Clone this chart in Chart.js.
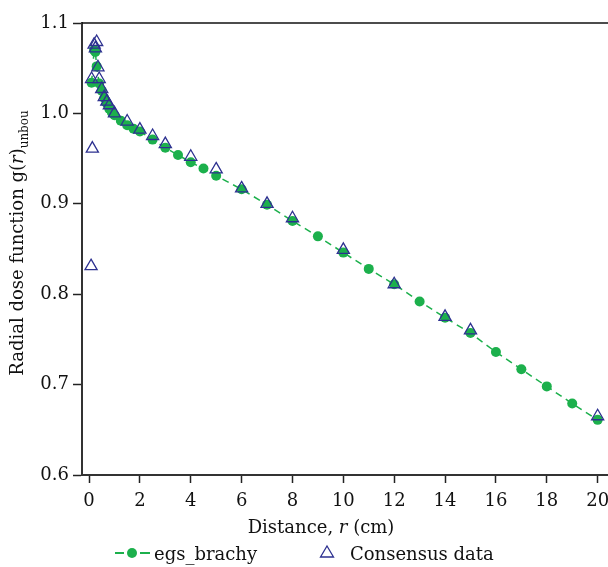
<!DOCTYPE html>
<html>
<head>
<meta charset="utf-8">
<script src="https://cdn.jsdelivr.net/npm/chart.js@4.4.1/dist/chart.umd.min.js"></script>
<style>
  html, body { margin: 0; padding: 0; background: #fff; overflow: hidden; }
  #wrap { width: 608px; height: 567px; position: relative; overflow: hidden; }
</style>
</head>
<body>
<div id="wrap"><canvas id="grafico" width="624" height="567"></canvas></div>
<script>
// egs_brachy (green dots, dashed line)
const rEgs = [0.1, 0.2, 0.25, 0.3, 0.4, 0.5, 0.6, 0.7, 0.8, 0.9, 1, 1.25, 1.5, 1.75, 2, 2.5, 3, 3.5, 4, 4.5, 5,
              6, 7, 8, 9, 10, 11, 12, 13, 14, 15, 16, 17, 18, 19, 20];
const gEgs = [1.034, 1.070, 1.068, 1.052, 1.033, 1.025, 1.017, 1.011, 1.005, 1.001, 0.998, 0.992, 0.987, 0.983, 0.980, 0.971, 0.962, 0.954, 0.946, 0.939, 0.931,
              0.916, 0.899, 0.881, 0.864, 0.846, 0.828, 0.811, 0.792, 0.774, 0.757, 0.736, 0.717, 0.698, 0.679, 0.661];

// consensus data (open triangles)
const rCons = [0.08, 0.1, 0.13, 0.2, 0.25, 0.3, 0.35, 0.4, 0.5, 0.6, 0.7, 0.8, 1, 1.5, 2, 2.5, 3, 4, 5,
               6, 7, 8, 10, 12, 14, 15, 20];
const gCons = [0.831, 1.038, 0.961, 1.076, 1.072, 1.079, 1.051, 1.038, 1.027, 1.018, 1.013, 1.009, 1.000, 0.991, 0.982, 0.975, 0.966, 0.952, 0.938,
               0.917, 0.900, 0.884, 0.849, 0.811, 0.775, 0.760, 0.665];

const xTicks = [0, 2, 4, 6, 8, 10, 12, 14, 16, 18, 20];
const yTicks = [0.6, 0.7, 0.8, 0.9, 1.0, 1.1];

const GREEN = '#1cb04c';
const NAVY = '#2d3190';
const FONT = '"DejaVu Serif", "Liberation Serif", serif';

function toPoints(xs, ys) {
    return xs.map((x, i) => ({ x: x, y: ys[i] }));
}

// draw a run of text pieces, each with its own font and baseline shift
function drawPieces(ctx, pieces, x, y) {
    let cx = x;
    pieces.forEach(p => {
        ctx.font = p.font;
        ctx.fillText(p.text, cx, y + (p.dy || 0));
        cx += ctx.measureText(p.text).width;
    });
}

function piecesWidth(ctx, pieces) {
    let w = 0;
    pieces.forEach(p => {
        ctx.font = p.font;
        w += ctx.measureText(p.text).width;
    });
    return w;
}

const decor = {
    id: 'decor',
    afterDraw(chart) {
        const ctx = chart.ctx;
        const area = chart.chartArea;
        ctx.save();

        // top frame line (right side runs off the picture)
        ctx.strokeStyle = '#111';
        ctx.lineWidth = 1.6;
        ctx.beginPath();
        ctx.moveTo(area.left, area.top);
        ctx.lineTo(area.right, area.top);
        ctx.stroke();

        ctx.fillStyle = '#111';
        ctx.textAlign = 'left';
        ctx.textBaseline = 'alphabetic';

        // x title
        const xt = [
            { text: 'Distance, ', font: '18px ' + FONT },
            { text: 'r', font: 'italic 18px ' + FONT },
            { text: ' (cm)', font: '18px ' + FONT }
        ];
        drawPieces(ctx, xt, 321 - piecesWidth(ctx, xt) / 2, 533);

        // y title, rotated
        const yt = [
            { text: 'Radial dose function g(', font: '18px ' + FONT },
            { text: 'r', font: 'italic 18px ' + FONT },
            { text: ')', font: '18px ' + FONT },
            { text: 'unbou', font: '12px ' + FONT, dy: 5 }
        ];
        ctx.save();
        ctx.translate(23, 243);
        ctx.rotate(-Math.PI / 2);
        drawPieces(ctx, yt, -piecesWidth(ctx, yt) / 2, 0);
        ctx.restore();

        // legend
        const ly = 553;
        ctx.strokeStyle = GREEN;
        ctx.lineWidth = 2;
        ctx.beginPath();
        ctx.moveTo(115, ly); ctx.lineTo(124, ly);
        ctx.moveTo(140, ly); ctx.lineTo(150, ly);
        ctx.stroke();
        ctx.fillStyle = GREEN;
        ctx.beginPath();
        ctx.arc(132, ly, 5, 0, Math.PI * 2);
        ctx.fill();
        ctx.fillStyle = '#111';
        ctx.font = '18px ' + FONT;
        ctx.fillText('egs_brachy', 154, 560);

        ctx.strokeStyle = NAVY;
        ctx.lineWidth = 1.3;
        ctx.beginPath();
        ctx.moveTo(327, ly - 7);
        ctx.lineTo(333.5, ly + 4);
        ctx.lineTo(320.5, ly + 4);
        ctx.closePath();
        ctx.stroke();
        ctx.fillText('Consensus data', 350, 560);

        ctx.restore();
    }
};

const chart = new Chart(document.getElementById('grafico').getContext('2d'), {
    type: 'scatter',
    data: {
        datasets: [
            {
                label: 'Consensus data',
                data: toPoints(rCons, gCons),
                pointStyle: 'triangle',
                pointRadius: 7,
                pointBorderWidth: 1.3,
                borderColor: NAVY,
                backgroundColor: 'rgba(0,0,0,0)',
                showLine: false,
                order: 0
            },
            {
                label: 'egs_brachy',
                data: toPoints(rEgs, gEgs),
                showLine: true,
                borderColor: GREEN,
                borderWidth: 1.5,
                borderDash: [7, 5],
                pointRadius: 5,
                pointBorderWidth: 0,
                pointBackgroundColor: GREEN,
                pointBorderColor: GREEN,
                backgroundColor: GREEN,
                order: 1
            }
        ]
    },
    options: {
        responsive: false,
        animation: false,
        events: [],
        layout: { padding: { top: 23, right: 0, left: 0, bottom: 0 } },
        plugins: {
            legend: { display: false },
            tooltip: { enabled: false }
        },
        scales: {
            x: {
                type: 'linear',
                min: -0.276,
                max: 20.71,
                afterBuildTicks: s => { s.ticks = xTicks.map(v => ({ value: v })); },
                afterFit: s => { s.height = 92; },
                ticks: {
                    color: '#111',
                    font: { family: FONT, size: 18 },
                    padding: 8,
                    maxRotation: 0,
                    autoSkip: false,
                    callback: v => String(v)
                },
                grid: { drawOnChartArea: false, drawTicks: true, tickLength: 8, tickColor: '#222', tickWidth: 1.5 },
                border: { display: true, color: '#333', width: 2 }
            },
            y: {
                type: 'linear',
                min: 0.6,
                max: 1.1,
                afterBuildTicks: s => { s.ticks = yTicks.map(v => ({ value: v })); },
                afterFit: s => { s.width = 82; },
                ticks: {
                    color: '#111',
                    font: { family: FONT, size: 18 },
                    padding: 4,
                    callback: v => Number(v).toFixed(1)
                },
                grid: { drawOnChartArea: false, drawTicks: true, tickLength: 9, tickColor: '#222', tickWidth: 1.5 },
                border: { display: true, color: '#333', width: 2 }
            }
        }
    },
    plugins: [decor]
});
</script>
</body>
</html>
